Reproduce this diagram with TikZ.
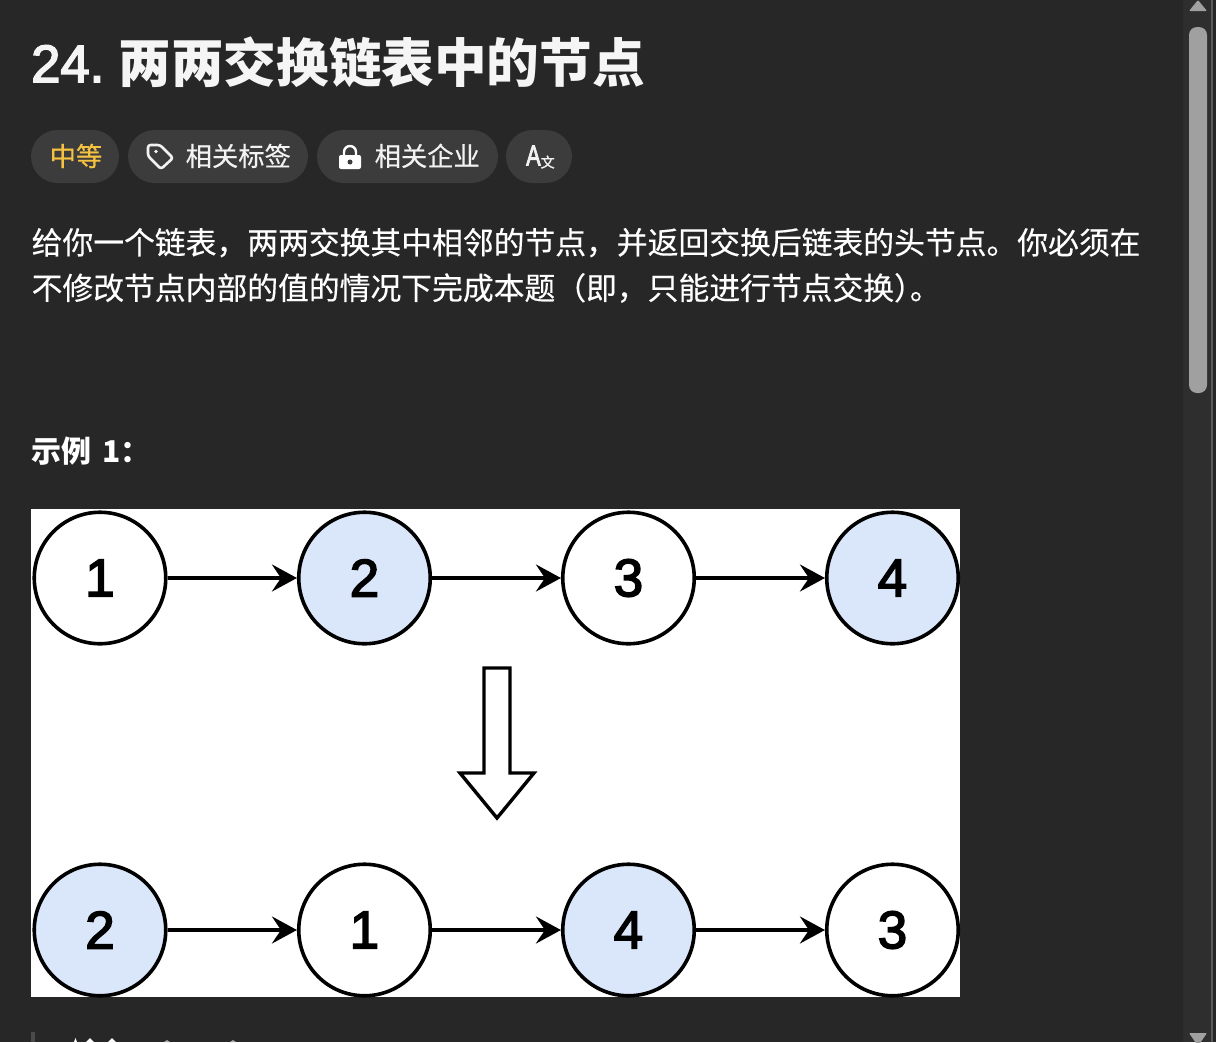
\documentclass[tikz,border=0pt]{standalone}
\usepackage{fontspec}
\setmainfont{Noto Sans CJK SC}
\newfontfamily\bodyfont[FakeBold=0.4]{Noto Sans CJK SC}
\newfontfamily\langfont[FakeBold=1.5]{Noto Sans CJK SC}
\newfontfamily\digitfont{Liberation Sans}
\newfontfamily\numfont[FakeBold=3]{Liberation Sans}
\usetikzlibrary{arrows.meta,positioning}
\definecolor{PageBG}{HTML}{272727}
\definecolor{ChipBG}{HTML}{3C3C3C}
\definecolor{ChipText}{HTML}{F2F2F2}
\definecolor{LevelCol}{HTML}{F5C242}
\definecolor{TrackBG}{HTML}{2E2E2E}
\definecolor{TrackLine}{HTML}{5A5A5A}
\definecolor{ThumbCol}{HTML}{A0A0A0}
\definecolor{QuoteBar}{HTML}{4A4A4A}
\definecolor{EvenFill}{HTML}{DAE7FA}
\newcommand{\fs}[1]{\fontsize{#1}{#1}\selectfont}
\begin{document}
\begin{tikzpicture}[x=1pt,y=-1pt,
  every node/.style={inner sep=0pt,text=white},
  title/.style={anchor=base west,font=\fs{52.6}\bfseries,text=white!96!black},
  para/.style={anchor=base west,font=\bodyfont\fs{30.8}},
  head/.style={anchor=base west,font=\fs{30}\bfseries},
  chip/.style={fill=ChipBG,rounded corners=26.5pt},
  chiplabel/.style={anchor=base west,font=\bodyfont\fs{26.3},text=ChipText},
  val/.style={draw=black,line width=3.6pt,circle,minimum size=131.5pt,fill=white,
              font=\numfont\fs{53},text=black},
  even/.style={val,fill=EvenFill},
  link/.style={draw=black,line width=3.4pt,-{Stealth[length=25pt,width=27pt,inset=9pt]}},
  >=Stealth]
  \useasboundingbox (0,0) rectangle (1216,1042);
  \fill[PageBG] (0,0) rectangle (1216,1042);
  \fill[TrackBG] (1183,0) rectangle (1211,1042);
  \fill[TrackLine] (1211,0) rectangle (1213,1042);
  \fill[black!85] (1213,0) rectangle (1216,1042);
  \fill[ThumbCol,rounded corners=8pt] (1189,27) rectangle (1207,393);
  \fill[ThumbCol,rounded corners=1pt] (1189,11) -- (1198,0) -- (1207,11) -- cycle;
  \fill[ThumbCol,rounded corners=1pt] (1189,1033) -- (1207,1033) -- (1198,1046) -- cycle;

  \node[title,font=\numfont\fs{52.6}] (titlenum) at (31,82) {24.};
  \node[title] (titletxt) at (118.5,82) {两两交换链表中的节点};

  \fill[chip] (31,130) rectangle (119,183);
  \fill[chip] (128,130) rectangle (308,183);
  \fill[chip] (317,130) rectangle (498,183);
  \fill[chip] (506,130) rectangle (572,183);
  \node[chiplabel,text=LevelCol] (level) at (49.5,166) {中等};
  \node[chiplabel] (tags) at (185.5,166) {相关标签};
  \node[chiplabel] (firms) at (374.5,166) {相关企业};
  \node[chiplabel,font=\numfont\fs{29},xscale=.75,transform shape] (langa) at (526,165.5) {A};
  \node[chiplabel,font=\langfont\fs{14}] (langb) at (540.5,167.5) {文};
  \draw[ChipText,line width=2.6pt,line join=round,rounded corners=2.5pt]
    (148,145) -- (160,145) -- (173,158) -- (161,169) -- (148,156) -- cycle;
  \fill[ChipText] (156,151.5) circle (1.8pt);
  \draw[white,line width=2.4pt] (344,156) -- (344,152) arc[start angle=180,end angle=0,radius=6pt] -- (356,156);
  \fill[white,rounded corners=2pt] (339,155) rectangle (361,169);
  \fill[ChipBG] (350,162) circle (2.5pt);

  \node[para] (line1) at (31.5,254) {给你一个链表，两两交换其中相邻的节点，并返回交换后链表的头节点。你必须在};
  \node[para] (line2) at (31.5,299.5) {不修改节点内部的值的情况下完成本题（即，只能进行节点交换）\kern-15pt 。};
  \node[head] (sample) at (31,462) {示例 \kern4pt 1：};

  \fill[white] (31,509) rectangle (960,997);
  \node[val]  (a1) at (100,578)  {\raisebox{-1pt}{1}};
  \node[even] (a2) at (364.5,578) {\raisebox{-1pt}{2}};
  \node[val]  (a3) at (628.5,578) {\raisebox{-1pt}{3}};
  \node[even] (a4) at (892.5,578) {\raisebox{-1pt}{4}};
  \node[even] (b2) at (100,930)  {\raisebox{-1pt}{2}};
  \node[val]  (b1) at (364.5,930) {\raisebox{-1pt}{1}};
  \node[even] (b4) at (628.5,930) {\raisebox{-1pt}{4}};
  \node[val]  (b3) at (892.5,930) {\raisebox{-1pt}{3}};
  \draw[link] (a1) -- (a2);
  \draw[link] (a2) -- (a3);
  \draw[link] (a3) -- (a4);
  \draw[link] (b2) -- (b1);
  \draw[link] (b1) -- (b4);
  \draw[link] (b4) -- (b3);
  \draw[black,fill=white,line width=3.4pt,line join=miter]
    (484,668) -- (510,668) -- (510,773) -- (534,773) -- (497,818)
    -- (460,773) -- (484,773) -- cycle;

  \fill[QuoteBar] (31,1032) rectangle (35,1042);
  \fill[white] (74,1042) -- (75.5,1038) -- (77,1042) -- cycle;
  \fill[white] (86,1042) -- (90,1038) -- (94,1042) -- cycle;
  \fill[white] (108,1042) -- (112,1038) -- (116,1042) -- cycle;
  \fill[white!60!PageBG] (164,1042) -- (167,1040) -- (170,1042) -- cycle;
  \fill[white!60!PageBG] (230,1042) -- (233,1040) -- (236,1042) -- cycle;
\end{tikzpicture}
\end{document}
